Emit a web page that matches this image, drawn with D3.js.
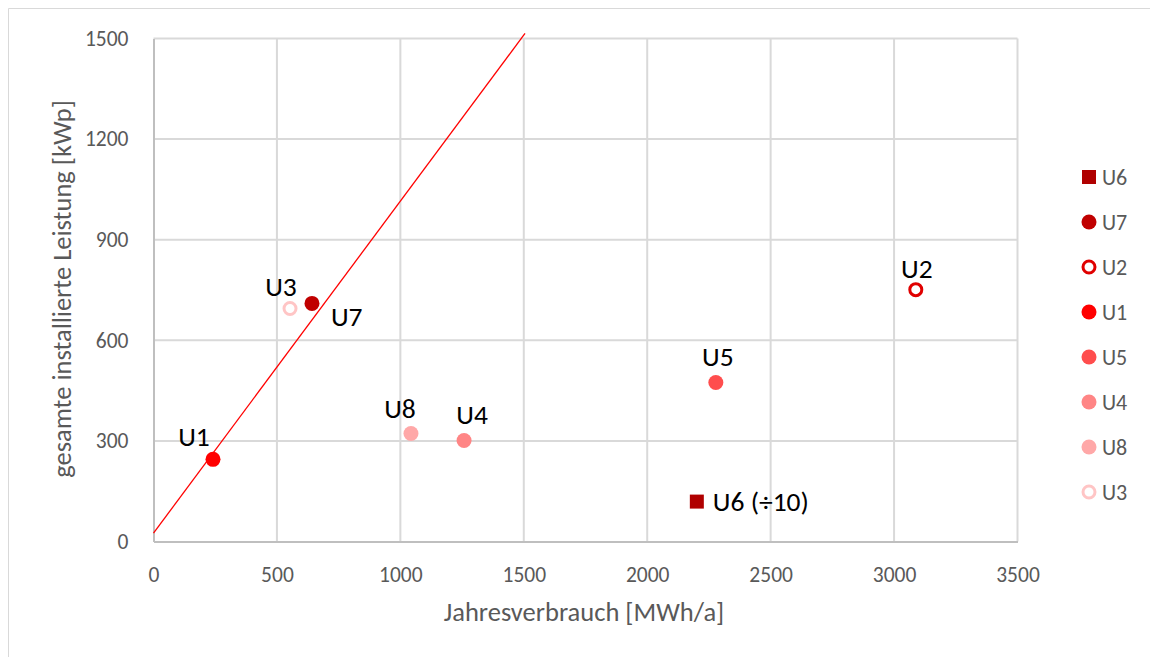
<!DOCTYPE html>
<html>
<head>
<meta charset="utf-8">
<script src="https://cdn.jsdelivr.net/npm/d3@7/dist/d3.min.js"></script>
<style>
  html, body { margin: 0; padding: 0; background: #fff; }
  svg { display: block; font-family: Carlito, Lato, "Liberation Sans", sans-serif; }
</style>
</head>
<body>
<svg id="chart" width="1150" height="657"></svg>
<script>
// Sites: annual consumption vs. installed PV capacity
const sites       = ["U6", "U7", "U2", "U1", "U5", "U4", "U8", "U3"];
const consumption = [2201, 642, 3088, 241, 2278, 1258, 1043, 553];   // MWh/a
const capacity    = [119, 710, 751, 245, 474, 301, 322, 695];        // kWp (U6 scaled ÷10)
const pointLabels = ["U6 (÷10)", "U7", "U2", "U1", "U5", "U4", "U8", "U3"];

// Reference line (about 1 kWp per MWh/a)
const refLineX = [0, 1505];
const refLineY = [25, 1515];

const xTicks = [0, 500, 1000, 1500, 2000, 2500, 3000, 3500];
const yTicks = [0, 300, 600, 900, 1200, 1500];

// Marker styling per site
const style = {
  U6: { shape: "square", color: "#B00000" },
  U7: { shape: "dot",    color: "#C00000" },
  U2: { shape: "ring",   color: "#E00000" },
  U1: { shape: "dot",    color: "#FF0000" },
  U5: { shape: "dot",    color: "#FF4D4D" },
  U4: { shape: "dot",    color: "#FF8585" },
  U8: { shape: "dot",    color: "#FFA8A8" },
  U3: { shape: "ring",   color: "#FFC5C5" }
};

// Label placement relative to the marker (dx, dy, anchor)
const labelPlace = {
  U6: [16, 0, "start"],
  U7: [19, 13, "start"],
  U2: [1, -21, "middle"],
  U1: [-19, -23, "middle"],
  U5: [2, -26, "middle"],
  U4: [8, -26, "middle"],
  U8: [-11, -25, "middle"],
  U3: [-9, -22, "middle"]
};

const svg = d3.select("#chart");
const W = 1150, H = 657;
const FONT_TICK = "21.5px", FONT_TITLE = "26.5px", FONT_LABEL = "27.5px", FONT_LEGEND = "22px";

// outer frame
svg.append("path").attr("d", `M8.5,${H} V8.5 H${W}`)
  .attr("fill", "none").attr("stroke", "#d9d9d9").attr("stroke-width", 1);

const x = d3.scaleLinear().domain([0, 3500]).range([153.5, 1017.5]);
const y = d3.scaleLinear().domain([0, 1500]).range([541.5, 38.5]);

// gridlines
svg.append("g").selectAll("line").data(xTicks.slice(1)).join("line")
  .attr("x1", d => x(d)).attr("x2", d => x(d))
  .attr("y1", y(0)).attr("y2", y(1500))
  .attr("stroke", "#d9d9d9").attr("stroke-width", 2);
svg.append("g").selectAll("line").data(yTicks.slice(1)).join("line")
  .attr("x1", x(0)).attr("x2", x(3500))
  .attr("y1", d => y(d)).attr("y2", d => y(d))
  .attr("stroke", "#d9d9d9").attr("stroke-width", 2);

// axes
const xAxis = svg.append("g").attr("transform", `translate(0,${y(0)})`)
  .call(d3.axisBottom(x).tickValues(xTicks).tickSize(0).tickPadding(21).tickFormat(d3.format("d")));
const yAxis = svg.append("g").attr("transform", `translate(${x(0)},0)`)
  .call(d3.axisLeft(y).tickValues(yTicks).tickSize(0).tickPadding(25).tickFormat(d3.format("d")));
[xAxis, yAxis].forEach(a => {
  a.select(".domain").attr("stroke", "#bfbfbf").attr("stroke-width", 2);
  a.selectAll("text").attr("fill", "#595959").style("font-size", FONT_TICK)
    .style("font-family", "Carlito, Lato, 'Liberation Sans', sans-serif");
});
xAxis.selectAll("text").attr("dy", "0.35em").attr("y", 33);

// axis titles
svg.append("text").attr("x", 584).attr("y", 612).attr("dy", "0.35em").attr("text-anchor", "middle")
  .attr("fill", "#595959").style("font-size", FONT_TITLE)
  .text("Jahresverbrauch [MWh/a]");
svg.append("text")
  .attr("transform", `translate(62,${y(750) - 1}) rotate(-90)`)
  .attr("dy", "0.35em")
  .attr("text-anchor", "middle").attr("fill", "#595959").style("font-size", FONT_TITLE)
  .text("gesamte installierte Leistung [kWp]");

// reference line
const lineGen = d3.line().x(d => x(d[0])).y(d => y(d[1]));
svg.append("path").datum(refLineX.map((v, i) => [v, refLineY[i]]))
  .attr("d", lineGen).attr("fill", "none").attr("stroke", "#FF0000").attr("stroke-width", 1.3);

// markers
function drawMarker(g, name, cx, cy) {
  const s = style[name];
  if (s.shape === "square") {
    g.append("rect").attr("x", cx - 7).attr("y", cy - 7).attr("width", 14).attr("height", 14)
      .attr("fill", s.color);
  } else if (s.shape === "ring") {
    g.append("circle").attr("cx", cx).attr("cy", cy).attr("r", 6)
      .attr("fill", "#fff").attr("stroke", s.color).attr("stroke-width", 3);
  } else {
    g.append("circle").attr("cx", cx).attr("cy", cy).attr("r", 7.5).attr("fill", s.color);
  }
}

const pts = svg.append("g");
sites.forEach((name, i) => {
  const cx = x(consumption[i]), cy = y(capacity[i]);
  drawMarker(pts, name, cx, cy);
  const [dx, dy, anchor] = labelPlace[name];
  pts.append("text").attr("x", cx + dx).attr("y", cy + dy).attr("dy", "0.35em")
    .attr("text-anchor", anchor).attr("fill", "#000").style("font-size", FONT_LABEL)
    .text(pointLabels[i]);
});

// legend
const legend = svg.append("g");
sites.forEach((name, i) => {
  const ly = 177 + i * 45;
  drawMarker(legend, name, 1089, ly);
  legend.append("text").attr("x", 1102).attr("y", ly).attr("dy", "0.35em")
    .attr("fill", "#595959").style("font-size", FONT_LEGEND).text(name);
});
</script>
</body>
</html>
